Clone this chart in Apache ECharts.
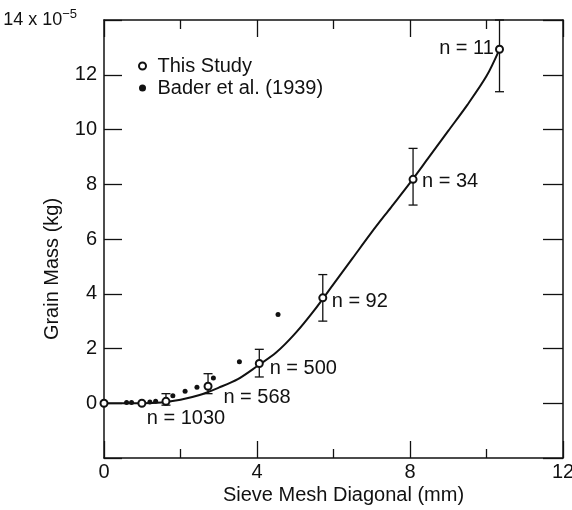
<!DOCTYPE html>
<html>
<head>
<meta charset="utf-8">
<script src="https://cdn.jsdelivr.net/npm/echarts@6/dist/echarts.min.js"></script>
<style>
  html, body { margin: 0; padding: 0; background: #fff; }
  #chart { width: 572px; height: 510px; }
</style>
</head>
<body>
<div id="chart"></div>
<script>
// This Study: mesh diagonal (mm), grain mass (x 1e-5 kg), error range, sample count
var studyX = [0, 0.99, 1.62, 2.72, 4.06, 5.72, 8.08, 10.34]
var studyY = [0, 0, 0.07, 0.62, 1.45, 3.85, 8.18, 12.93]
var studyLow = [null, null, -0.07, 0.35, 0.96, 3.0, 7.24, 11.38]
var studyHigh = [null, null, 0.35, 1.08, 1.97, 4.7, 9.31, 14.0]
var studyN = [null, null, 1030, 568, 500, 92, 34, 11]

// Bader et al. (1939)
var baderX = [0.59, 0.72, 1.2, 1.35, 1.8, 2.12, 2.43, 2.86, 3.54, 4.55]
var baderY = [0.03, 0.03, 0.05, 0.07, 0.27, 0.44, 0.58, 0.92, 1.52, 3.24]

// fitted curve
var curveX = [0, 1.0, 1.5, 2.0, 2.5, 3.0, 3.5, 4.0, 4.5, 5.0, 5.5, 6.0, 6.5, 7.0, 7.5, 8.0, 8.5, 9.0, 9.5, 10.0, 10.34]
var curveY = [0, 0, 0.03, 0.13, 0.3, 0.57, 0.88, 1.35, 1.85, 2.55, 3.4, 4.35, 5.3, 6.25, 7.15, 8.05, 9.0, 9.95, 10.9, 11.95, 12.93]

var xTicks = [0, 4, 8, 12]
var yTicks = [0, 2, 4, 6, 8, 10, 12, 14]

// where the "n = ..." labels sit, relative to their point (px)
var labelShift = [null, null, [20, 17], [49, 11], [44, 5], [37, 4], [37, 2], [-33, -1]]

var font = 'Liberation Sans'
var ink = '#111'

var studyData = studyX.map(function (x, i) {
  var item = { value: [x, studyY[i]] }
  if (studyN[i] !== null) {
    item.label = {
      show: true,
      position: 'inside',
      offset: labelShift[i],
      formatter: 'n = ' + studyN[i],
      color: ink,
      textBorderWidth: 0,
      fontSize: 20,
      fontFamily: font
    }
  }
  return item
})
var barData = []
studyX.forEach(function (x, i) {
  if (studyLow[i] !== null) barData.push([x, studyLow[i], studyHigh[i]])
})
var baderData = baderX.map(function (x, i) { return [x, baderY[i]] })
var curveData = curveX.map(function (x, i) { return [x, curveY[i]] })

var chart = echarts.init(document.getElementById('chart'))
chart.setOption({
  animation: false,
  textStyle: { fontFamily: font, color: ink },
  grid: { left: 104, right: 9, top: 20, bottom: 52, containLabel: false, outerBoundsMode: 'none' },
  legend: {
    data: ['This Study', 'Bader et al. (1939)'],
    orient: 'vertical',
    left: 133,
    top: 51,
    itemWidth: 20,
    itemHeight: 7,
    itemGap: 2,
    textStyle: { fontSize: 20, lineHeight: 20, color: ink, fontFamily: font }
  },
  xAxis: [
    {
      type: 'value',
      min: xTicks[0],
      max: xTicks[xTicks.length - 1],
      interval: 4,
      name: 'Sieve Mesh Diagonal (mm)',
      nameLocation: 'middle',
      nameGap: 27,
      nameMoveOverlap: false,
      nameTextStyle: { fontSize: 20, color: ink, padding: [0, 0, 0, 20] },
      axisLine: { onZero: false, lineStyle: { color: ink, width: 1.5 } },
      axisTick: { inside: true, length: 17, lineStyle: { color: ink, width: 1.3 } },
      minorTick: { show: true, splitNumber: 2, length: 9, lineStyle: { color: ink, width: 1.3 } },
      axisLabel: { fontSize: 20, color: ink, margin: 4 },
      splitLine: { show: false }
    },
    {
      type: 'value',
      position: 'top',
      min: xTicks[0],
      max: xTicks[xTicks.length - 1],
      interval: 4,
      axisLine: { onZero: false, lineStyle: { color: ink, width: 1.5 } },
      axisTick: { inside: true, length: 17, lineStyle: { color: ink, width: 1.3 } },
      minorTick: { show: true, splitNumber: 2, length: 9, lineStyle: { color: ink, width: 1.3 } },
      axisLabel: { show: false },
      splitLine: { show: false }
    }
  ],
  yAxis: [
    {
      type: 'value',
      min: -2,
      max: yTicks[yTicks.length - 1],
      interval: 2,
      name: 'Grain Mass (kg)',
      nameLocation: 'middle',
      nameGap: 42,
      nameMoveOverlap: false,
      nameTextStyle: { fontSize: 20, color: ink, padding: [0, 60, 0, 0] },
      axisLine: { onZero: false, lineStyle: { color: ink, width: 1.5 } },
      axisTick: { inside: true, length: 18, lineStyle: { color: ink, width: 1.3 } },
      axisLabel: {
        fontSize: 20,
        color: ink,
        margin: 7,
        formatter: function (v) {
          if (yTicks.indexOf(v) < 0) return ''
          if (v === 14) return '{a|14 x 10}{b|−5}'
          return String(v)
        },
        rich: {
          a: { fontSize: 18, color: ink, fontFamily: font },
          b: { fontSize: 13, color: ink, fontFamily: font, padding: [0, 20, 12, 0] }
        }
      },
      splitLine: { show: false }
    },
    {
      type: 'value',
      position: 'right',
      min: -2,
      max: yTicks[yTicks.length - 1],
      interval: 2,
      axisLine: { onZero: false, lineStyle: { color: ink, width: 1.5 } },
      axisTick: { inside: true, length: 20, lineStyle: { color: ink, width: 1.3 } },
      axisLabel: { show: false },
      splitLine: { show: false }
    }
  ],
  series: [
    {
      name: 'fit',
      type: 'line',
      data: curveData,
      smooth: 0.3,
      showSymbol: false,
      lineStyle: { color: ink, width: 2 },
      z: 2
    },
    {
      name: 'error',
      type: 'custom',
      data: barData,
      renderItem: function (params, api) {
        var x = api.value(0)
        var top = api.coord([x, api.value(2)])
        var bot = api.coord([x, api.value(1)])
        var w = 4.5
        var st = { stroke: ink, lineWidth: 1.3 }
        return {
          type: 'group',
          children: [
            { type: 'line', shape: { x1: top[0], y1: top[1], x2: bot[0], y2: bot[1] }, style: st },
            { type: 'line', shape: { x1: top[0] - w, y1: top[1], x2: top[0] + w, y2: top[1] }, style: st },
            { type: 'line', shape: { x1: bot[0] - w, y1: bot[1], x2: bot[0] + w, y2: bot[1] }, style: st }
          ]
        }
      },
      z: 3
    },
    {
      name: 'Bader et al. (1939)',
      type: 'scatter',
      data: baderData,
      symbol: 'circle',
      symbolSize: 5,
      itemStyle: { color: ink, opacity: 1 },
      z: 4
    },
    {
      name: 'This Study',
      type: 'scatter',
      data: studyData,
      symbol: 'emptyCircle',
      symbolSize: 7,
      itemStyle: { color: ink, borderWidth: 1.4, opacity: 1 },
      z: 5
    }
  ]
})
</script>
</body>
</html>
